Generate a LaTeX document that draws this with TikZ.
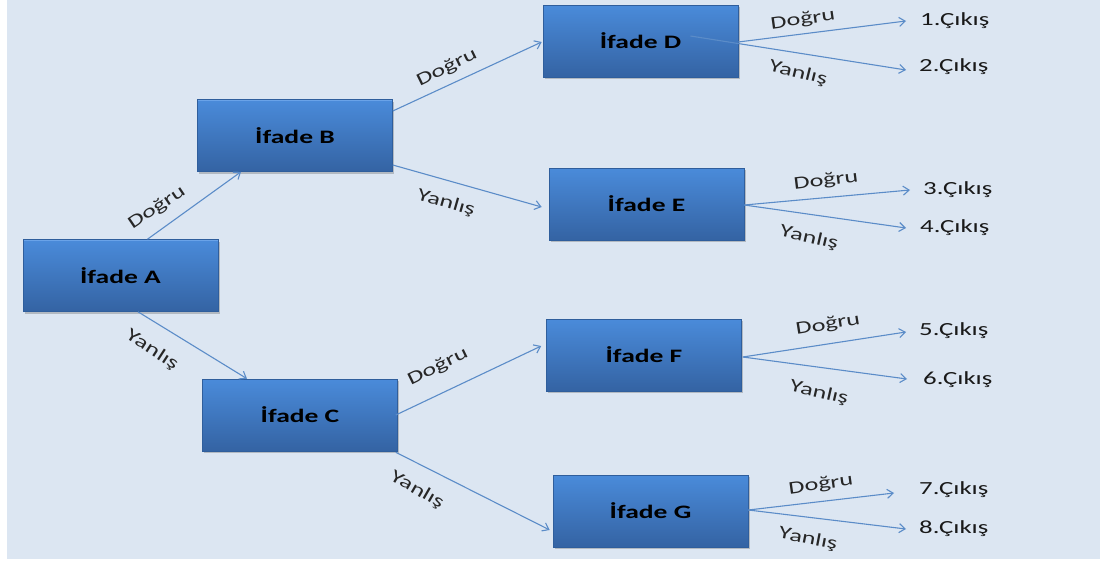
\documentclass[tikz,border=0pt]{standalone}
\usepackage{fontspec}
\setmainfont[FakeStretch=1.45]{Carlito}
\usetikzlibrary{arrows.meta,calc,shadows}

\definecolor{panel}{HTML}{DCE6F2}
\definecolor{boxtop}{HTML}{4A8BDA}
\definecolor{boxbot}{HTML}{3463A3}
\definecolor{boxrim}{HTML}{2F5E9C}
\definecolor{boxhi}{HTML}{6AA3E8}
\definecolor{wire}{HTML}{5B8CC8}

\tikzset{
  stmt/.style={rectangle, minimum width=195pt, minimum height=72pt, inner sep=0pt,
    top color=boxtop, bottom color=boxbot, draw=boxrim, line width=0.6pt,
    drop shadow={shadow xshift=1.5pt, shadow yshift=-2pt, opacity=0.35, fill=black!60},
    path picture={\draw[boxhi, line width=2pt]
      (path picture bounding box.north west) -- (path picture bounding box.north east);},
    font=\bfseries\fontsize{19}{22}\selectfont, text=black},
  wire/.style={draw=wire, line width=1.1pt, -{Straight Barb[length=6pt,width=9pt]}},
  cond/.style={font=\fontsize{18}{20}\selectfont, text=black!85, inner sep=0pt},
  outp/.style={font=\fontsize{18.5}{20}\selectfont, anchor=west, inner sep=0pt, text=black!90},
}

\begin{document}
\begin{tikzpicture}[x=1pt,y=-1pt]
\useasboundingbox (0,0) rectangle (1103,562);
\fill[white] (0,0) rectangle (1103,562);
\fill[panel] (7,0) rectangle (1100,559);

% decision boxes
\node[stmt] (A) at (120.5,275.5) {İfade A};
\node[stmt] (B) at (295,135.5) {İfade B};
\node[stmt] (C) at (300,415) {İfade C};
\node[stmt] (D) at (640.5,41) {İfade D};
\node[stmt] (E) at (646.5,204) {İfade E};
\node[stmt] (F) at (644,355) {İfade F};
\node[stmt] (G) at (650.5,511) {İfade G};

% outputs
\node[outp] (o1) at (920,21) {1.Çıkış};
\node[outp] (o2) at (919,67) {2.Çıkış};
\node[outp] (o3) at (923,190) {3.Çıkış};
\node[outp] (o4) at (920,228) {4.Çıkış};
\node[outp] (o5) at (919,331) {5.Çıkış};
\node[outp] (o6) at (923,380) {6.Çıkış};
\node[outp] (o7) at (919,490) {7.Çıkış};
\node[outp] (o8) at (919,529) {8.Çıkış};

% first and second level branches
\draw[wire] ($(A.north)+(27,0)$) -- ($(B.south)+(-54,0)$);
\draw[wire] ($(A.south)+(17.5,0)$) -- ($(C.north)+(-53,0)$);
\draw[wire] ($(B.east)+(0,-24.5)$) -- ($(D.west)+(-1,1)$);
\draw[wire] ($(B.east)+(0,29.5)$) -- ($(E.west)+(-7,3)$);
\draw[wire] ($(C.east)+(-2,0)$) -- ($(F.west)+(-5,-9)$);
\draw[wire] ($(C.south east)+(-2,1)$) -- ($(G.west)+(-3,19)$);

% branches to the outputs
\draw[wire] ($(D.east)+(0,1)$) -- ($(o1.west)+(-14,0)$);
\draw[wire] ($(D.center)+(50,-5)$) -- ($(o2.west)+(-13,3)$);
\draw[wire] ($(E.east)+(0,1)$) -- ($(o3.west)+(-13,0)$);
\draw[wire] ($(E.east)+(0,1)$) -- ($(o4.west)+(-14,0)$);
\draw[wire] ($(F.east)+(1,2)$) -- ($(o5.west)+(-13,1)$);
\draw[wire] ($(F.east)+(1,2)$) -- ($(o6.west)+(-16,-1)$);
\draw[wire] ($(G.east)+(0,-1)$) -- ($(o7.west)+(-25,3)$);
\draw[wire] ($(G.east)+(0,-1)$) -- ($(o8.west)+(-13,0)$);

% branch labels
\node[cond, rotate=34]  (lab) at (157,208) {Doğru};
\node[cond, rotate=-33] (lac) at (152,350) {Yanlış};
\node[cond, rotate=26]  (lbd) at (447,68)  {Doğru};
\node[cond, rotate=-16] (lbe) at (446,203) {Yanlış};
\node[cond, rotate=26]  (lcf) at (438,367) {Doğru};
\node[cond, rotate=-30] (lcg) at (417,490) {Yanlış};
\node[cond, rotate=8]   (ld1) at (803,20)  {Doğru};
\node[cond, rotate=-14] (ld2) at (798,73)  {Yanlış};
\node[cond, rotate=7]   (le1) at (826,181) {Doğru};
\node[cond, rotate=-13] (le2) at (809,238) {Yanlış};
\node[cond, rotate=9]   (lf1) at (828,325) {Doğru};
\node[cond, rotate=-13] (lf2) at (819,393) {Yanlış};
\node[cond, rotate=8]   (lg1) at (821,485) {Doğru};
\node[cond, rotate=-11] (lg2) at (808,539) {Yanlış};
\end{tikzpicture}
\end{document}
